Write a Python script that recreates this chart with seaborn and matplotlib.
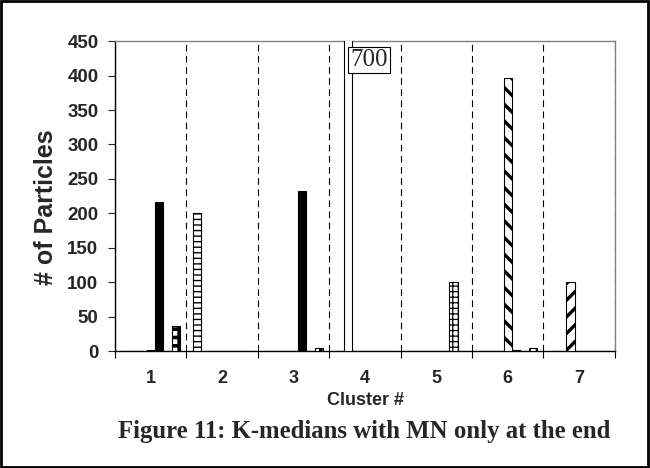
import matplotlib.pyplot as plt
import matplotlib.patches as mpatches
import pandas as pd
import seaborn as sns

# data
clusters = ["1", "2", "3", "4", "5", "6", "7"]
series_names = ["A", "B", "C", "D", "E", "F", "G"]
series_a = [0, 200, 0, 0, 0, 0, 0]
series_b = [0, 0, 0, 700, 0, 0, 0]
series_c = [0, 0, 0, 0, 0, 0, 100]
series_d = [2, 0, 0, 0, 0, 397, 0]
series_e = [216, 0, 232, 0, 0, 1, 0]
series_f = [0, 0, 0, 0, 100, 0, 0]
series_g = [37, 0, 5, 0, 0, 5, 0]
y_ticks = [0, 50, 100, 150, 200, 250, 300, 350, 400, 450]

# fill colour, hatch, hatch linewidth per series
styles = {
    "A": ("white", "---", 1.0),
    "B": ("white", "", 1.0),
    "C": ("white", "//", 2.4),
    "D": ("white", "\\\\", 2.4),
    "E": ("black", "", 1.0),
    "F": ("white", "+++", 0.9),
    "G": ("white", "++", 2.6),
}


def main():
    values = [series_a, series_b, series_c, series_d,
              series_e, series_f, series_g]
    rows = []
    for name, vals in zip(series_names, values):
        for c, v in zip(clusters, vals):
            rows.append({"cluster": c, "series": name, "count": v})
    df = pd.DataFrame(rows)

    sns.set_style("ticks")
    plt.rcParams["font.family"] = ["Liberation Sans", "DejaVu Sans"]

    fig = plt.figure(figsize=(6.5, 4.68), dpi=100)
    ax = fig.add_axes([0.177, 0.25, 0.769, 0.662])

    palette = {s: styles[s][0] for s in series_names}
    sns.barplot(data=df, x="cluster", y="count", hue="series",
                order=clusters, hue_order=series_names, palette=palette,
                width=0.83, saturation=1, edgecolor="black", linewidth=0.8,
                legend=False, ax=ax, zorder=3)

    for name, cont in zip(series_names, ax.containers):
        _, hatch, hlw = styles[name]
        for bar in cont:
            if hatch:
                bar.set_hatch(hatch)
                if hasattr(bar, "set_hatch_linewidth"):
                    bar.set_hatch_linewidth(hlw)

    ax.set_ylim(0, 450)
    ax.set_xlim(-0.5, len(clusters) - 0.5)
    ax.set_yticks(y_ticks)

    # label for the bar that runs off the chart
    big = ax.containers[series_names.index("B")]
    for bar, v in zip(big, series_b):
        if v > 450:
            ax.text(bar.get_x() + bar.get_width() * 0.75, 439, f"{v}",
                    family="Liberation Serif", fontsize=18,
                    ha="left", va="top", zorder=5,
                    bbox=dict(boxstyle="square,pad=0.08", fc="white",
                              ec="black", lw=0.8))

    # category boundaries: minor ticks with dashed grid
    bounds = [i - 0.5 for i in range(len(clusters) + 1)]
    ax.set_xticks(bounds, minor=True)
    ax.grid(which="minor", axis="x", color="black", linestyle=(0, (6, 4)),
            linewidth=0.8, zorder=1)
    ax.grid(which="major", visible=False)
    ax.tick_params(axis="x", which="major", length=0, pad=14,
                   labelsize=13)
    ax.tick_params(axis="x", which="minor", length=5, width=0.8,
                   direction="out", color="black")
    ax.tick_params(axis="y", length=5, width=0.8, pad=7, labelsize=13.5)
    for lab in ax.get_xticklabels() + ax.get_yticklabels():
        lab.set_fontweight("bold")

    for side in ["left", "bottom"]:
        ax.spines[side].set_color("black")
        ax.spines[side].set_linewidth(1.0)
    for side in ["top", "right"]:
        ax.spines[side].set_visible(True)
        ax.spines[side].set_color("#808080")
        ax.spines[side].set_linewidth(1.0)

    ax.set_xlabel("Cluster #", fontsize=13, fontweight="bold", labelpad=3)
    ax.set_ylabel("# of Particles", fontsize=18, fontweight="bold")
    ax.yaxis.set_label_coords(-0.114, 0.465)

    fig.text(0.561, 0.079, "Figure 11: K-medians with MN only at the end",
             family="Liberation Serif", fontsize=17.8, fontweight="bold",
             ha="center", va="center")

    fig.patches.append(mpatches.Rectangle(
        (0.002, 0.003), 0.995, 0.994, transform=fig.transFigure,
        fill=False, ec="black", lw=2))

    fig.savefig("out.png", dpi=100)


if __name__ == "__main__":
    main()
